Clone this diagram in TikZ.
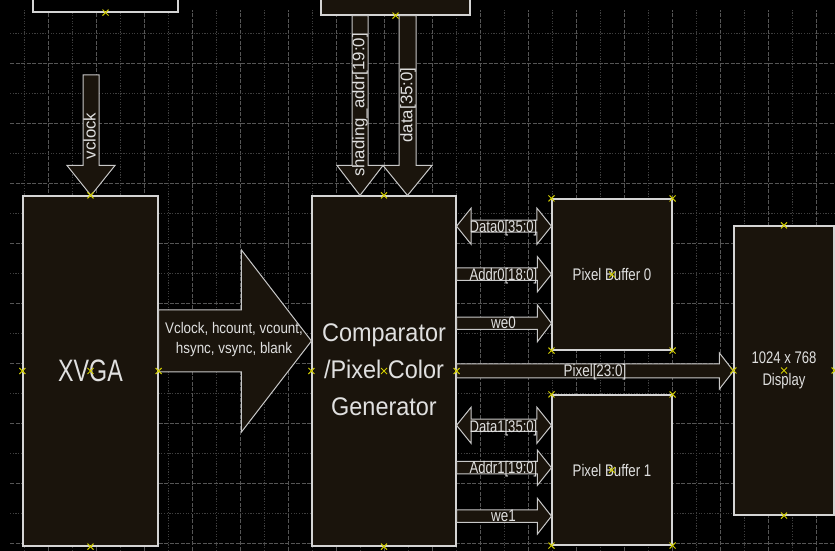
\documentclass[tikz,border=0pt]{standalone}
\usepackage{fontspec}
\setmainfont{Liberation Sans}
\usepackage{graphicx}
\usetikzlibrary{calc}
\definecolor{bfill}{HTML}{1A140C}
\definecolor{bedge}{HTML}{D4D4D4}
\definecolor{aedge}{HTML}{C8C8C8}
\definecolor{mkc}{HTML}{D0CC00}
\definecolor{gdash}{HTML}{555555}
\definecolor{gdot}{HTML}{3E3E3E}
\definecolor{txtc}{HTML}{E0E0E0}
\tikzset{
 blk/.style={draw=bedge, fill=bfill, line width=1.1pt, inner sep=0pt, text=txtc},
 barrow/.style={draw=aedge, fill=bfill, line width=1pt, line join=miter},
 gdashed/.style={draw=gdash, line width=0.9pt, dash pattern=on 4pt off 1.5pt},
 gdotted/.style={draw=gdot, line width=0.9pt, dash pattern=on 1.2pt off 1.5pt},
 mkline/.style={draw=mkc, line width=1pt},
 lbl/.style={text=txtc, inner sep=0pt},
}
% right block arrow: from, to, Y, half shaft, half head, head length
\newcommand\RArr[6]{\draw[barrow] let \p1=(#1), \p2=(#2) in
 (\x1,{#3pt+#4pt}) -- (\x2-#6pt,{#3pt+#4pt}) -- (\x2-#6pt,{#3pt+#5pt}) -- (\x2,{#3pt})
 -- (\x2-#6pt,{#3pt-#5pt}) -- (\x2-#6pt,{#3pt-#4pt}) -- (\x1,{#3pt-#4pt}) -- cycle;}
% double block arrow
\newcommand\DArr[6]{\draw[barrow] let \p1=(#1), \p2=(#2) in
 (\x1,{#3pt}) -- (\x1+#6pt,{#3pt+#5pt}) -- (\x1+#6pt,{#3pt+#4pt}) -- (\x2-#6pt,{#3pt+#4pt})
 -- (\x2-#6pt,{#3pt+#5pt}) -- (\x2,{#3pt}) -- (\x2-#6pt,{#3pt-#5pt}) -- (\x2-#6pt,{#3pt-#4pt})
 -- (\x1+#6pt,{#3pt-#4pt}) -- (\x1+#6pt,{#3pt-#5pt}) -- cycle;}
% down block arrow: from, to, X, half shaft, half head, head length
\newcommand\VArr[6]{\draw[barrow] let \p1=(#1), \p2=(#2) in
 ({#3pt-#4pt},\y1) -- ({#3pt-#4pt},\y2+#6pt) -- ({#3pt-#5pt},\y2+#6pt) -- ({#3pt},\y2)
 -- ({#3pt+#5pt},\y2+#6pt) -- ({#3pt+#4pt},\y2+#6pt) -- ({#3pt+#4pt},\y1) -- cycle;}
\newcommand\mk[1]{\draw[mkline] ($(#1)+(-3,-3)$) -- ($(#1)+(3,3)$) ($(#1)+(-3,3)$) -- ($(#1)+(3,-3)$);}
\newcommand\sq[2]{\scalebox{#1}[1]{#2}}
\newcommand\lf{\fontsize{16.8}{16.8}\selectfont}
\begin{document}
\begin{tikzpicture}[x=1pt,y=1pt]
\useasboundingbox (0,0) rectangle (835,551);
\clip (0,0) rectangle (835,551);
\fill[black] (0,0) rectangle (835,551);
% grid
\foreach \x in {24,72,...,792} \draw[gdotted] (\x,0) -- (\x,541);
\foreach \x in {48,96,...,816} \draw[gdashed] (\x,0) -- (\x,541);
\foreach \y in {38,98,...,518} \draw[gdotted] (10,\y) -- (835,\y);
\foreach \y in {8,68,...,488} \draw[gdashed] (10,\y) -- (835,\y);
% boxes
\node[blk, fill=black, minimum width=145pt, minimum height=52pt] (topl) at (105.5,565) {};
\node[blk, minimum width=149pt, minimum height=55pt] (topr) at (395.5,563.5) {};
\node[blk, minimum width=135pt, minimum height=350pt] (xvga) at (90.5,180)
  {\fontsize{31}{31}\selectfont\sq{0.75}{XVGA}};
\node[blk, minimum width=144pt, minimum height=350pt] (cmp) at (384,180)
  {\fontsize{25.5}{37}\selectfont\sq{0.92}{\begin{tabular}{@{}c@{}}Comparator\\/Pixel Color\\Generator\end{tabular}}};
\node[blk, minimum width=120pt, minimum height=151pt] (pb0) at (612,276.5) {\lf\sq{0.79}{Pixel Buffer 0}};
\node[blk, minimum width=120pt, minimum height=150pt] (pb1) at (612,81) {\lf\sq{0.79}{Pixel Buffer 1}};
\node[blk, minimum width=100pt, minimum height=289pt] (disp) at (784,180.5)
  {\fontsize{16.8}{22}\selectfont\sq{0.78}{\begin{tabular}{@{}c@{}}1024 x 768\\Display\end{tabular}}};
% arrows
\coordinate (vtop) at (91,476);
\VArr{vtop}{xvga.north}{91}{8}{24}{30}
\VArr{topr.south}{cmp.north}{360}{8}{23}{30}
\VArr{topr.south}{cmp.north}{407.5}{8.5}{24.5}{30}
\RArr{xvga.east}{cmp.west}{210}{31}{91}{70}
\DArr{cmp.east}{pb0.west}{324.8}{6}{18}{14.5}
\RArr{cmp.east}{pb0.west}{276.8}{6.3}{17.5}{14}
\RArr{cmp.east}{pb0.west}{227.7}{6.2}{18.3}{14}
\RArr{cmp.east}{disp.west}{180}{7}{18}{14}
\DArr{cmp.east}{pb1.west}{125.7}{6.2}{18}{14.5}
\RArr{cmp.east}{pb1.west}{83.3}{6.2}{17.5}{14}
\RArr{cmp.east}{pb1.west}{34.8}{6.3}{17.8}{14}
% labels
\node[lbl, rotate=90, font=\lf] (lvc) at (89.5,415) {vclock};
\node[lbl, rotate=90, font=\lf] (lsa) at (360,446) {shading\_addr[19:0]};
\node[lbl, rotate=90, font=\lf] (ldt) at (408,446) {data[35:0]};
\node[lbl] (lbus) at (234,211)
  {\fontsize{15.4}{20}\selectfont\sq{0.87}{\begin{tabular}{@{}c@{}}Vclock, hcount, vcount,\\hsync, vsync, blank\end{tabular}}};
\node[lbl, anchor=base] (ld0) at (503.5,318.3) {\lf\sq{0.78}{Data0[35:0]}};
\node[lbl, anchor=base] (la0) at (503.5,270.3) {\lf\sq{0.78}{Addr0[18:0]}};
\node[lbl, anchor=base] (lw0) at (503.5,222) {\lf\sq{0.80}{we0}};
\node[lbl, anchor=base] (lpx) at (595,174) {\lf\sq{0.80}{Pixel[23:0]}};
\node[lbl, anchor=base] (ld1) at (503.5,118.9) {\lf\sq{0.78}{Data1[35:0]}};
\node[lbl, anchor=base] (la1) at (503.5,77) {\lf\sq{0.78}{Addr1[19:0]}};
\node[lbl, anchor=base] (lw1) at (503.5,29) {\lf\sq{0.80}{we1}};
% markers
\mk{topl.south}
\mk{topr.south}
\foreach \n in {xvga,cmp,disp}{\foreach \a in {north,south,east,west,center}{\mk{\n.\a}}}
\foreach \n in {pb0,pb1}{\foreach \a in {north east,north west,south east,south west,center}{\mk{\n.\a}}}
\end{tikzpicture}
\end{document}
